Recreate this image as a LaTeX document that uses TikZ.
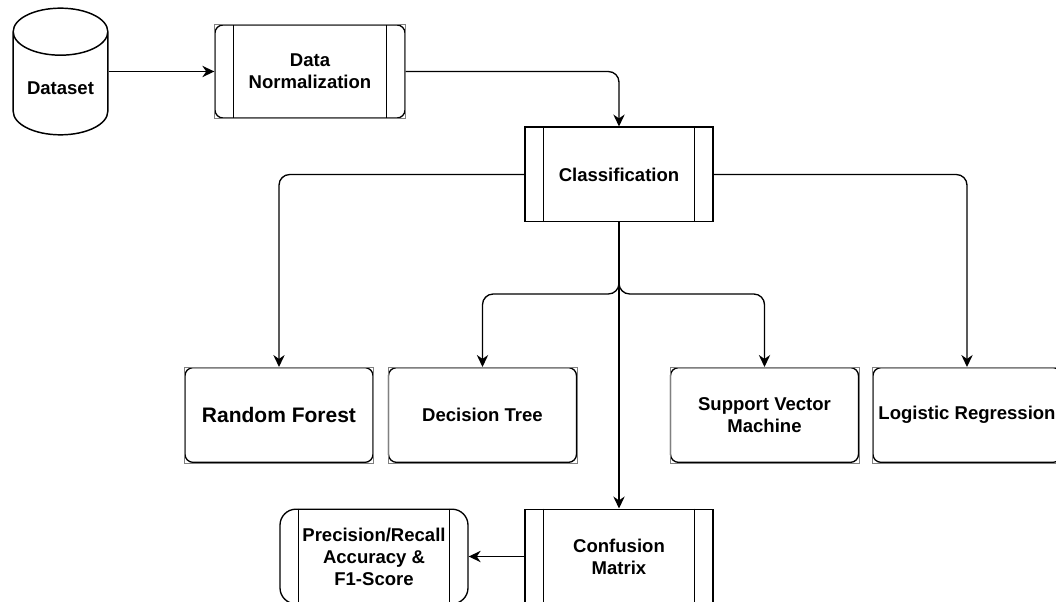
\documentclass[tikz,border=0pt]{standalone}
\usepackage{fontspec}
\setmainfont{Liberation Sans}
\usetikzlibrary{shapes.geometric,arrows.meta,positioning}
\tikzstyle{dbnode}=[cylinder, draw, shape border rotate=90, aspect=0.62, minimum width=71pt, minimum height=95pt, line width=1.1pt]
\tikzstyle{procblock}=[rectangle, draw, align=center, minimum width=141pt, minimum height=71pt, line width=1pt]
\tikzstyle{roundblock}=[procblock, rounded corners=6pt]
\tikzstyle{link}=[-{Stealth[length=9pt,width=8.5pt]}, line width=1pt, rounded corners=8pt]

\begin{document}
\begin{tikzpicture}[x=0.75pt, y=-0.75pt, every node/.style={font=\bfseries\fontsize{13.9}{16.5}\selectfont}]
\useasboundingbox (0,0) rectangle (1056,602);

\node[dbnode, anchor=shape center](ds) at (60.5,71.5) {Dataset};
\node[roundblock, minimum width=142.5pt, minimum height=69.75pt](dn) at (310,71.5) {Data\\Normalization};
\node[procblock](cls) at (619,174.5) {Classification};
\node[roundblock](rf) at (279,415) {\fontsize{15.75}{18}\selectfont Random Forest};
\node[roundblock](dt) at (482.5,415) {Decision Tree};
\node[roundblock](svm) at (764.5,415) {Support Vector\\Machine};
\node[roundblock](lr) at (967,415) {Logistic Regression};
\node[procblock](cm) at (619,556.5) {Confusion\\Matrix};
\node[procblock, rounded corners=12pt](pr) at (374,556.5) {Precision/Recall\\Accuracy \&\\F1-Score};
\coordinate (split) at (619,294);

% side bars of the process boxes
\foreach \n in {dn,cls,cm,pr} {
  \draw[line width=1pt] ([xshift=14.5pt]\n.north west) -- ([xshift=14.5pt]\n.south west);
  \draw[line width=1pt] ([xshift=-14.5pt]\n.north east) -- ([xshift=-14.5pt]\n.south east);
}
% square corner marks
\foreach \n in {dn,rf,dt,svm,lr}
  \draw[gray, line width=0.5pt] (\n.north west) rectangle (\n.south east);

\draw[link](ds.east |- dn.west) -- (dn.west);
\draw[link](dn.east) -| (cls.north);
\draw[link](cls.west) -| (rf.north);
\draw[link](cls.east) -| (lr.north);
\draw[link](cls.south) -- (split) -| (dt.north);
\draw[link](cls.south) -- (split) -| (svm.north);
\draw[link](cls.south) -- (cm.north);
\draw[link](cm.west) -- (pr.east);

\end{tikzpicture}
\end{document}
